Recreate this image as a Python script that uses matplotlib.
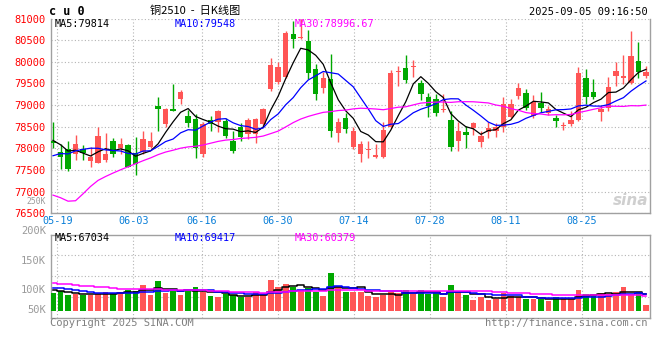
import numpy as np
import pandas as pd
import matplotlib
matplotlib.use('Agg')
from matplotlib import pyplot as plt

plt.rcParams['font.family'] = ['DejaVu Sans Mono', 'Noto Sans CJK SC']

# daily bars, 2025-05-16 .. 2025-09-05
opens = [78170, 77910, 77980, 77870, 77980, 77710, 77670, 77730, 78160, 78000,
         78070, 77900, 77910, 78030, 78980, 78560, 78920, 79150, 78750, 78680,
         77880, 78650, 78600, 78630, 78180, 78500, 78330, 78330, 78560, 79360,
         79530, 79640, 80640, 80550, 80480, 79840, 79390, 79610, 78350, 78690,
         78030, 77880, 77960, 77800, 77790, 78500, 79760, 79860, 79870, 79520,
         79190, 79140, 78880, 78650, 78180, 78380, 78460, 78150, 78370, 78400,
         78500, 78730, 79210, 79290, 78750, 79040, 78820, 78690, 78510, 78560,
         78650, 79630, 79300, 78830, 78940, 79680, 79630, 79500, 80010, 79680]
highs = [78610, 78110, 78180, 78320, 78080, 78040, 78500, 78350, 78240, 78230,
         78110, 78260, 78400, 78380, 79190, 78930, 79480, 79350, 78880, 78800,
         78600, 78750, 78880, 78690, 78400, 78580, 78690, 78690, 78930, 80090,
         80000, 80720, 80940, 80990, 80730, 79960, 79770, 80170, 78690, 78810,
         78500, 78170, 78170, 78090, 78610, 79800, 79910, 80150, 80040, 79580,
         79270, 79250, 79250, 78860, 78600, 78520, 78610, 78400, 78600, 78580,
         79190, 79140, 79520, 79370, 79230, 79310, 78970, 78770, 78610, 78860,
         79880, 79830, 79600, 79000, 79650, 80000, 80150, 80700, 80460, 79900]
lows = [78000, 77530, 77480, 77720, 77720, 77570, 77660, 77690, 77800, 77880,
        77560, 77380, 77880, 78010, 78400, 78500, 78860, 79020, 78500, 77780,
        77800, 78400, 78380, 78230, 77900, 78170, 78210, 78120, 78500, 79320,
        79480, 79630, 80330, 80530, 79610, 79110, 79270, 78270, 78150, 78350,
        77990, 77690, 77780, 77780, 77780, 78480, 79450, 79520, 79640, 79120,
        78730, 78740, 78840, 77940, 77940, 78010, 78300, 78040, 78230, 78270,
        78380, 78710, 79150, 78880, 78710, 78830, 78760, 78500, 78420, 78510,
        78640, 79020, 79140, 78640, 78860, 79450, 79480, 79490, 79630, 79620]
closes = [78130, 77800, 77520, 78100, 77900, 77800, 78280, 77880, 77870, 78110,
          77580, 77650, 78210, 78160, 78920, 78910, 78870, 79310, 78590, 78000,
          78560, 78560, 78860, 78290, 77950, 78270, 78650, 78680, 78900, 79920,
          79880, 80670, 80520, 80570, 79730, 79260, 79630, 78390, 78610, 78440,
          78400, 78110, 77985, 77840, 78420, 79750, 79790, 79590, 79900, 79250,
          78980, 78820, 78920, 78040, 78400, 78320, 78580, 78280, 78480, 78500,
          79020, 79020, 79400, 78940, 79060, 78940, 78910, 78640, 78525, 78650,
          79730, 79190, 79190, 78920, 79420, 79780, 79670, 80130, 79770, 79770]
volumes = [70900, 75700, 65100, 68900, 65100, 65100, 68900, 73700, 70000, 73700,
           80400, 76600, 94700, 65100, 105300, 70900, 75700, 65100, 80400, 88100,
           73700, 63100, 59400, 68000, 66000, 58500, 58500, 73700, 66000, 109000,
           89000, 96700, 89000, 80000, 86000, 73700, 63000, 129000, 89000, 73700,
           74600, 72900, 63100, 59400, 64300, 73700, 70000, 79500, 68000, 79500,
           68000, 70900, 59400, 93800, 74600, 64300, 50800, 59400, 50800, 54500,
           70000, 62300, 58500, 54500, 54500, 52800, 47100, 58500, 54500, 54500,
           79500, 68000, 64300, 70000, 68900, 73700, 88100, 64300, 72900, 36400]

# sessions before the window, only feeding the moving averages
warm_close = [79600, 79920, 77800, 73100, 72700, 74080, 75180, 75470, 75860, 75480,
              75550, 76110, 76210, 76670, 77110, 77600, 77900, 77700, 77560, 77700,
              77300, 77600, 77400, 77550, 77530, 78300, 78250, 78000, 78240]
warm_vol = [105000, 110000, 125000, 130000, 128000, 124000, 122000, 120000, 118000, 118000,
            95000, 92000, 90000, 88000, 92000, 90000, 89000, 88000, 90000, 87000,
            95000, 90000, 93000, 92000, 92500, 85000, 80000, 82000, 79600]

tick_labels = ['05-19', '06-03', '06-16', '06-30', '07-14', '07-28', '08-11', '08-25']
tick_idx = [1, 11, 20, 30, 40, 50, 60, 70]
price_ticks = list(range(76500, 81001, 500))
vol_labels = ['250K', '200K', '150K', '100K', '50K']
price_ma_text = ['MA5:79814', 'MA10:79548', 'MA30:78996.67']
vol_ma_text = ['MA5:67034', 'MA10:69417', 'MA30:60379']

RED = '#ff5555'
GREEN = '#00a800'
GRID = '#b4b4b4'
FRAME = '#a0a0a0'
MA_COLORS = ['black', '#0000ff', '#ff00ff']
VOL_BASE = 20000   # bars start a little above the panel floor

n = len(closes)
x = np.arange(n)
o, h, l, c = map(np.array, (opens, highs, lows, closes))
col = np.where(c >= o, RED, GREEN)

cs = pd.Series(warm_close + closes, dtype=float)
vs = pd.Series(warm_vol + volumes, dtype=float)
ma = [cs.rolling(k).mean().values[-n:] for k in (5, 10, 30)]
vma = [vs.rolling(k).mean().values[-n:] for k in (5, 10, 30)]

fig = plt.figure(figsize=(6.6, 3.6), dpi=100)
ax = fig.add_axes([0.0768, 0.4075, 0.9073, 0.5411])
axv = fig.add_axes([0.0768, 0.1175, 0.9073, 0.2306])

xt = np.array(tick_idx) * 1.0127 - 0.44
dots = (0, (1, 2))

# price panel
ax.vlines(x, l, h, colors=col, lw=1.0, zorder=3)
ax.bar(x, np.maximum(np.abs(c - o), 22), bottom=np.minimum(o, c), width=0.72,
       color=col, lw=0, zorder=4)
for m, cl in zip(ma, MA_COLORS):
    ax.plot(x, m, color=cl, lw=0.9, zorder=5)

ax.set_xlim(-0.31, 79.47)
ax.set_ylim(76500, 81000)
ax.set_yticks(price_ticks)
ax.set_yticklabels([str(p) for p in price_ticks], color='#ff0000', fontsize=7.5)
ax.set_xticks(xt)
ax.set_xticklabels(tick_labels, color='#0a7fd8', fontsize=7.3)
ax.tick_params(axis='y', length=0, pad=3.4)
ax.tick_params(axis='x', length=0, pad=2.0)
ax.grid(True, color=GRID, linestyle=dots, lw=0.8)
ax.set_axisbelow(True)
ax.spines['top'].set_visible(False)
for s in ('left', 'right', 'bottom'):
    ax.spines[s].set_color(FRAME)
    ax.spines[s].set_linewidth(1.0)

for txt, cl, xp in zip(price_ma_text, MA_COLORS, [0.0072, 0.2076, 0.408]):
    ax.text(xp, 0.972, txt, transform=ax.transAxes, color=cl, fontsize=7.3,
            va='center', ha='left', zorder=6)

ax.text(0.998, 0.068, 'sina', transform=ax.transAxes, ha='right', va='center',
        fontsize=11, fontstyle='italic', fontweight='bold', color='#cfcfcf',
        family='DejaVu Sans', zorder=1)

# volume panel
vol = np.array(volumes)
axv.bar(x, vol - VOL_BASE, bottom=VOL_BASE, width=0.76, color=col, lw=0, zorder=3)
for m, cl in zip(vma, MA_COLORS):
    axv.plot(x, m, color=cl, lw=1.1, drawstyle='steps-mid', zorder=4)
axv.set_xlim(-0.31, 79.47)
axv.set_ylim(0, 238000)
axv.set_yticks([59500, 119000, 178500])
axv.set_xticks(xt)
axv.tick_params(length=0, labelleft=False, labelbottom=False)
axv.grid(True, color=GRID, linestyle=dots, lw=0.8)
axv.set_axisbelow(True)
for s in axv.spines.values():
    s.set_color(FRAME)
    s.set_linewidth(1.0)

for txt, yp, fs in zip(vol_labels, [1.4, 1.045, 0.687, 0.334, 0.093],
                       [5.8, 7.5, 7.5, 7.5, 7.5]):
    axv.text(-0.0078, yp, txt, transform=axv.transAxes, ha='right', va='center',
             color='#9a9a9a', fontsize=fs, clip_on=False)

for txt, cl, xp in zip(vol_ma_text, MA_COLORS, [0.0072, 0.2076, 0.408]):
    axv.text(xp, 0.962, txt, transform=axv.transAxes, color=cl, fontsize=7.3,
             va='center', ha='left', zorder=6)

# header and footer
fig.text(0.0742, 0.9667, 'c u 0', fontsize=8.5, fontweight='bold', va='center', ha='left')
fig.text(0.2955, 0.969, '铜2510  -  日K线图', fontsize=8, va='center', ha='center',
         family=['Noto Sans CJK SC', 'DejaVu Sans'])
fig.text(0.9818, 0.9675, '2025-09-05 09:16:50', fontsize=7.5, va='center', ha='right')
fig.text(0.0758, 0.1019, 'Copyright 2025 SINA.COM', fontsize=7.5, color='#808080',
         va='center', ha='left')
fig.text(0.9818, 0.1019, 'http://finance.sina.com.cn', fontsize=7.5, color='#808080',
         va='center', ha='right')

fig.savefig('out.png', dpi=100, facecolor='white')
